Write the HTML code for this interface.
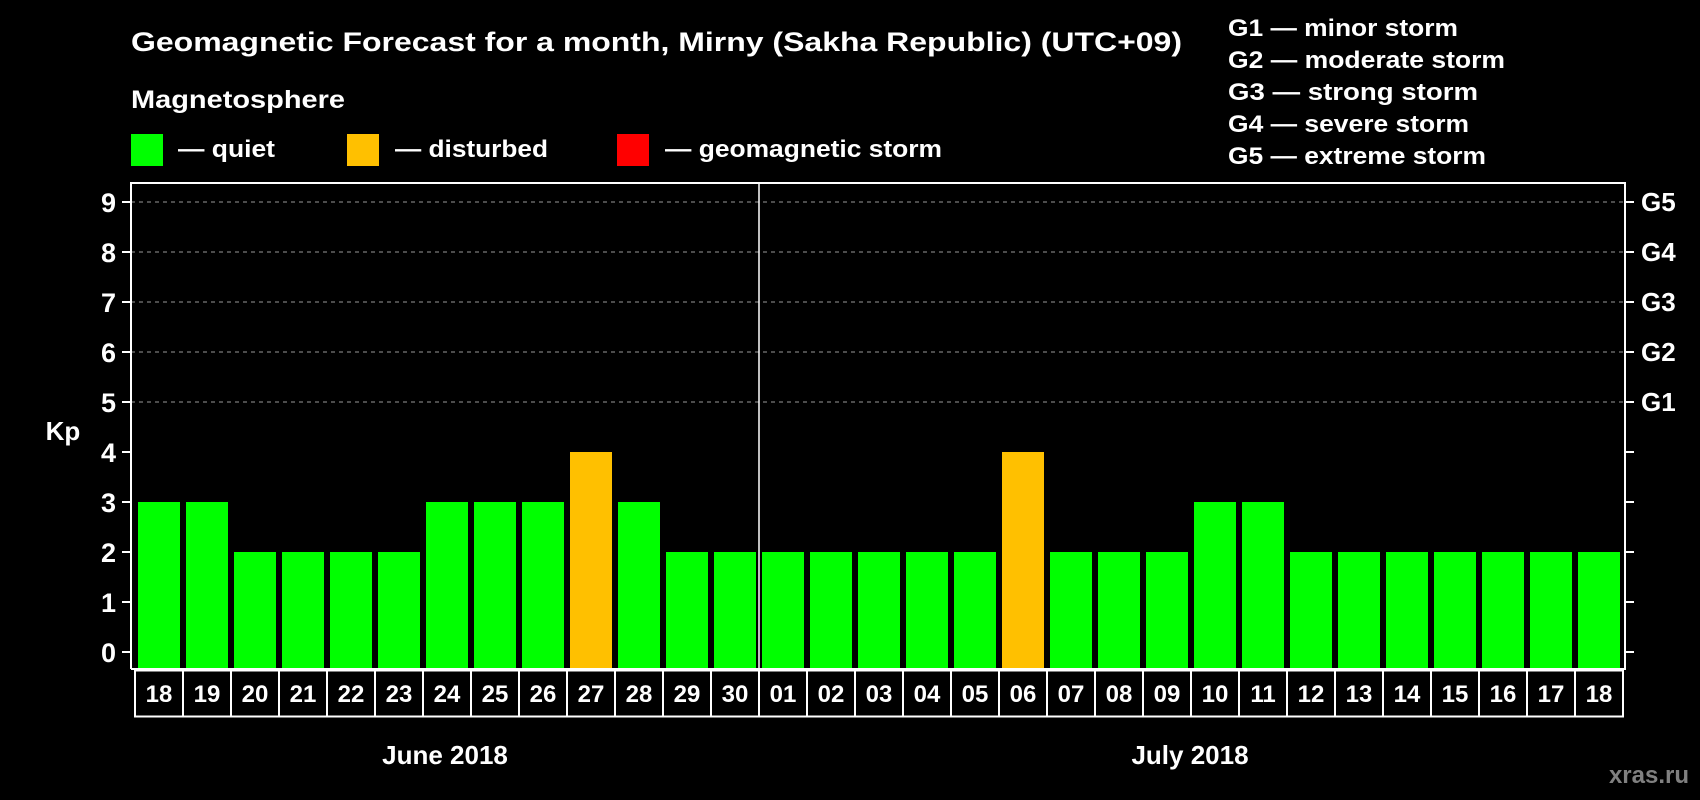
<!DOCTYPE html>
<html><head><meta charset="utf-8"><style>
html,body{margin:0;padding:0;background:#000;}
svg{display:block;font-family:"Liberation Sans",Arial,sans-serif;font-weight:bold;}
</style></head><body>
<svg id="chart" width="1700" height="800" viewBox="0 0 1700 800">
<text x="131" y="51" font-size="27" fill="#fff" textLength="1051" lengthAdjust="spacingAndGlyphs">Geomagnetic Forecast for a month, Mirny (Sakha Republic) (UTC+09)</text>
<text x="131" y="108" font-size="25" fill="#fff" textLength="214" lengthAdjust="spacingAndGlyphs">Magnetosphere</text>
<g><rect x="131" y="134" width="32" height="32" fill="#00ff00"/><text x="178" y="157" font-size="24" fill="#fff" textLength="97" lengthAdjust="spacingAndGlyphs">— quiet</text></g>
<g><rect x="347" y="134" width="32" height="32" fill="#ffc000"/><text x="395" y="157" font-size="24" fill="#fff" textLength="153" lengthAdjust="spacingAndGlyphs">— disturbed</text></g>
<g><rect x="617" y="134" width="32" height="32" fill="#ff0000"/><text x="665" y="157" font-size="24" fill="#fff" textLength="277" lengthAdjust="spacingAndGlyphs">— geomagnetic storm</text></g>
<g font-size="24" fill="#fff">
<text x="1228" y="36" textLength="230" lengthAdjust="spacingAndGlyphs">G1 — minor storm</text>
<text x="1228" y="68" textLength="277" lengthAdjust="spacingAndGlyphs">G2 — moderate storm</text>
<text x="1228" y="100" textLength="250" lengthAdjust="spacingAndGlyphs">G3 — strong storm</text>
<text x="1228" y="132" textLength="241" lengthAdjust="spacingAndGlyphs">G4 — severe storm</text>
<text x="1228" y="164" textLength="258" lengthAdjust="spacingAndGlyphs">G5 — extreme storm</text>
</g>
<text x="63" y="440" font-size="26" fill="#fff" text-anchor="middle">Kp</text>
<text x="445" y="764" font-size="26" fill="#fff" text-anchor="middle">June 2018</text>
<text x="1190" y="764" font-size="26" fill="#fff" text-anchor="middle">July 2018</text>
<text x="1689" y="783" font-size="24" fill="#808080" text-anchor="end">xras.ru</text>
<g id="plot"></g>
</svg>
<script>
const days = ["18","19","20","21","22","23","24","25","26","27","28","29","30","01","02","03","04","05","06","07","08","09","10","11","12","13","14","15","16","17","18"];
const kpValues = [3,3,2,2,2,2,3,3,3,4,3,2,2,2,2,2,2,2,4,2,2,2,3,3,2,2,2,2,2,2,2];
const yTicks = [0,1,2,3,4,5,6,7,8,9];
const gLabels = ["G1","G2","G3","G4","G5"];
const gLevels = [5,6,7,8,9];
const juneCount = 13;

const NS="http://www.w3.org/2000/svg";
const g=document.getElementById('plot');
const X0=135, SLOT=48, Y0=652, UNIT=50, BASE=668, LEFT=131, RIGHT=1624, TOP=183;
const y=v=>Y0-v*UNIT;
const x=i=>X0+i*SLOT;
function mk(t,a){const e=document.createElementNS(NS,t);for(const k in a)e.setAttribute(k,a[k]);g.appendChild(e);return e;}
// gridlines
gLevels.forEach((v,i)=>{
 const l=mk('line',{x1:LEFT,x2:RIGHT,y1:y(v),y2:y(v),stroke:'#999','stroke-width':1,'stroke-dasharray':'4,4'});
 
 
 const t=mk('text',{x:1641,y:y(v)+9,'font-size':26,fill:'#fff'});t.textContent=gLabels[i];
 
 
});
// bars
kpValues.forEach((v,i)=>{
 const col=v>=5?'#ff0000':(v>=4?'#ffc000':'#00ff00');
 const r=mk('rect',{x:x(i)+3,y:y(v),width:42,height:BASE-y(v),fill:col});
 
 
 const b=mk('rect',{x:x(i),y:670.5,width:SLOT,height:46,fill:'none',stroke:'#fff','stroke-width':2});
 
 
 const t=mk('text',{x:x(i)+SLOT/2,y:702,'font-size':24,fill:'#fff','text-anchor':'middle'});t.textContent=days[i];
 
 
});
// frame
const fr=mk('path',{d:`M${LEFT},${BASE+1} V${TOP} H${RIGHT+1} V${BASE+1} H${LEFT}`,fill:'none',stroke:'#fff','stroke-width':2});


const dv=mk('line',{x1:x(juneCount),x2:x(juneCount),y1:TOP,y2:BASE,stroke:'#fff','stroke-width':1.5});


// y ticks
yTicks.forEach(v=>{
 mk('line',{x1:122,x2:LEFT,y1:y(v),y2:y(v),stroke:'#fff','stroke-width':2});
 mk('line',{x1:RIGHT,x2:RIGHT+10,y1:y(v),y2:y(v),stroke:'#fff','stroke-width':2});
 const t=mk('text',{x:116,y:y(v)+10,'font-size':27,fill:'#fff','text-anchor':'end'});t.textContent=v;
 
 
});
</script>
</body></html>
